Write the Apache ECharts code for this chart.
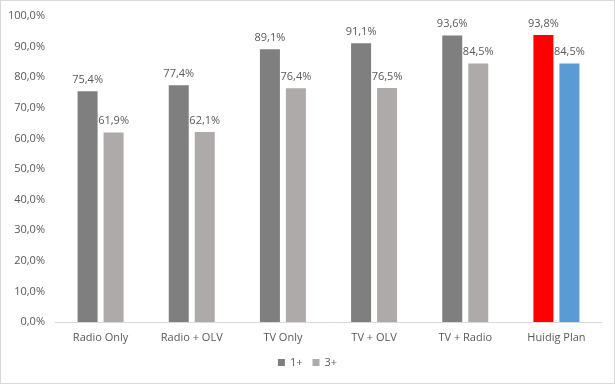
<!DOCTYPE html>
<html><head><meta charset="utf-8">
<script src="https://cdn.jsdelivr.net/npm/echarts@6/dist/echarts.min.js"></script>
<style>
html,body{margin:0;padding:0;background:#fff;}
#c{width:613px;height:382px;border:1px solid #d9d9d9;}
</style></head>
<body><div id="c"></div>
<script>
const categories = ['Radio Only','Radio + OLV','TV Only','TV + OLV','TV + Radio','Huidig Plan'];
const series1 = [75.4, 77.4, 89.1, 91.1, 93.6, 93.8];
const series3 = [61.9, 62.1, 76.4, 76.5, 84.5, 84.5];
const seriesNames = ['1+','3+'];
const highlight1 = '#ff0000';
const highlight3 = '#5b9bd5';

const fmt = v => v.toFixed(1).replace('.', ',') + '%';
const font = '"Open Sans", sans-serif';
const txt = '#595959';

function mk(vals, base, hi) {
  return vals.map((v, i) => i === vals.length - 1
    ? { value: v, itemStyle: { color: hi } }
    : v);
}

const chart = echarts.init(document.getElementById('c'));
chart.setOption({
  animation: false,
  grid: { left: 54, right: 12, top: 15, bottom: 61, containLabel: false },
  legend: {
    bottom: 10, left: 'center', itemWidth: 7, itemHeight: 7, itemGap: 10,
    textStyle: { color: txt, fontFamily: font, fontSize: 11 },
    icon: 'rect'
  },
  xAxis: {
    type: 'category', data: categories,
    axisLine: { lineStyle: { color: '#d9d9d9' } },
    axisTick: { show: false },
    axisLabel: { color: txt, fontFamily: font, fontSize: 11, margin: 10, interval: 0 }
  },
  yAxis: {
    type: 'value', min: 0, max: 100, interval: 10,
    axisLine: { show: false }, axisTick: { show: false },
    splitLine: { show: false },
    axisLabel: { color: txt, fontFamily: font, fontSize: 11, margin: 10, formatter: v => fmt(v) }
  },
  series: [
    { name: seriesNames[0], type: 'bar', data: mk(series1, '#7f7f7f', highlight1),
      itemStyle: { color: '#7f7f7f' }, barWidth: 20, barGap: '30%',
      label: { show: true, position: 'top', color: txt, fontFamily: font, fontSize: 11, distance: 6,
        formatter: p => fmt(p.value) } },
    { name: seriesNames[1], type: 'bar', data: mk(series3, '#aeaaaa', highlight3),
      itemStyle: { color: '#aeaaaa' }, barWidth: 20,
      label: { show: true, position: 'top', color: txt, fontFamily: font, fontSize: 11, distance: 6,
        formatter: p => fmt(p.value) } }
  ]
});
</script></body></html>
